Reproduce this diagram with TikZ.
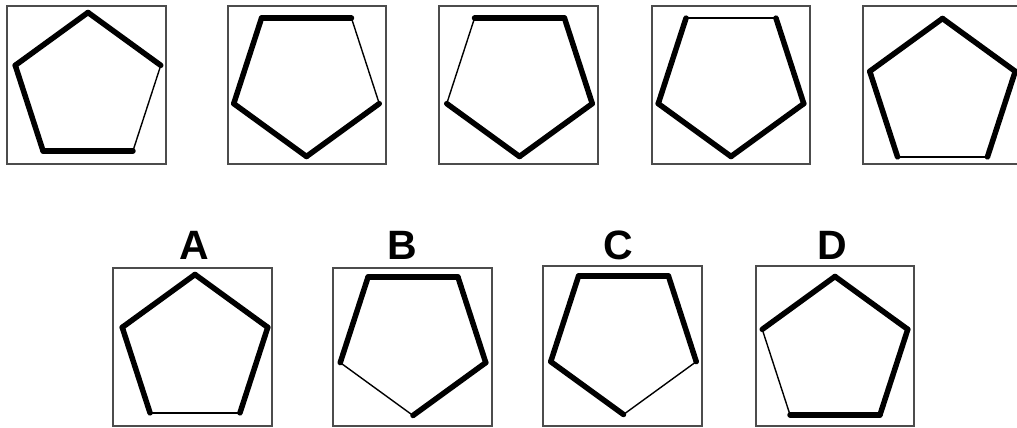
\documentclass[tikz,border=0pt]{standalone}
\usepackage{fontspec}
\newfontfamily\labelfont{Liberation Sans}
\usepackage{tikz}

\begin{document}
\begin{tikzpicture}[x=1pt,y=1pt,
  box/.style={draw=black!70,line width=1.5pt},
  heavy/.style={line width=5.5pt,line cap=round,line join=round},
  light/.style={line width=1.4pt,line cap=round},
  letter/.style={anchor=base,font=\labelfont\bfseries\fontsize{41}{41}\selectfont}]
\useasboundingbox (0,0) rectangle (1017,428);

% frames, top row
\draw[box] (7,264) rectangle (166,422);
\draw[box] (228,264) rectangle (386,422);
\draw[box] (439,264) rectangle (598,422);
\draw[box] (652,264) rectangle (810,422);
\draw[box] (1020,264) -- (863,264) -- (863,422) -- (1020,422);

% frames, answers
\draw[box] (113,2) rectangle (272,160);
\draw[box] (333,2) rectangle (492,160);
\draw[box] (543,2) rectangle (702,162);
\draw[box] (756,2) rectangle (914,162);

% pentagons: centre x / centre y / first vertex angle / thin side
\foreach \cx/\cy/\a/\t in {88/339/90/3, 306.5/348/270/1, 519.5/348/270/3,
    731/348/270/2, 942.5/333/90/2, 195/77/90/2, 413/89/270/4,
    623.5/90/270/0, 835/75/90/1} {
  \foreach \k in {0,...,4} {
    \pgfmathsetmacro\sa{\a+72*\k}
    \pgfmathsetmacro\ea{\a+72*(\k+1)}
    \ifnum\k=\t\relax \def\side{light}\else\def\side{heavy}\fi
    \draw[\side] ([shift={(\cx,\cy)}]\sa:76.5) -- ([shift={(\cx,\cy)}]\ea:76.5);
  }
}

% answer letters
\node[letter] (lblA) at (194,168) {A};
\node[letter] (lblB) at (402,168) {B};
\node[letter] (lblC) at (618,168) {C};
\node[letter] (lblD) at (832,168) {D};
\end{tikzpicture}
\end{document}
